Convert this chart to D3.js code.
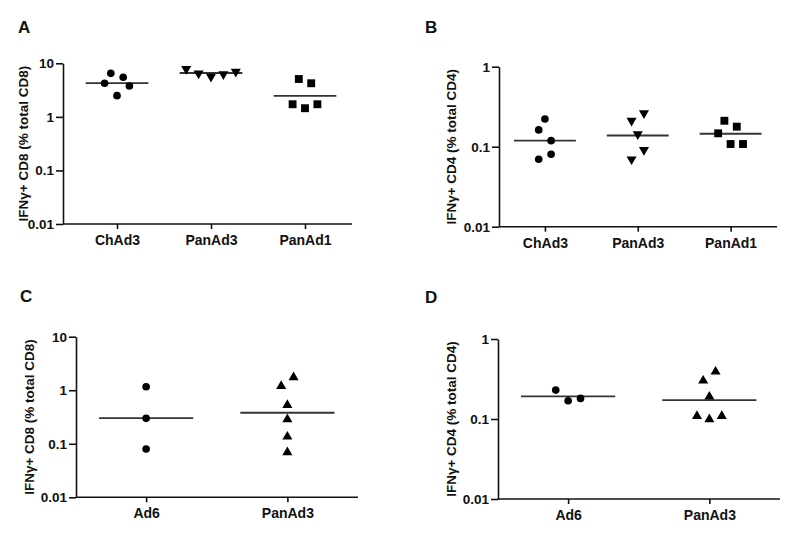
<!DOCTYPE html>
<html>
<head>
<meta charset="utf-8">
<script src="https://cdn.jsdelivr.net/npm/d3@7"></script>
<style>
  html, body { margin: 0; padding: 0; background: #fff; }
  svg { display: block; }
  text { font-family: "Liberation Sans", Arial, Helvetica, sans-serif; font-weight: bold; fill: #111; }
</style>
</head>
<body>
<svg id="chart" width="793" height="536"></svg>
<script>
// ---------------- DATA ----------------
// Panel A: IFNγ+ CD8 (% total CD8)
const catsA = ["ChAd3", "PanAd3", "PanAd1"];
const valsA_ChAd3  = [6.5, 5.48, 4.24, 3.77, 2.49];
const valsA_PanAd3 = [7.83, 6.5, 5.62, 6.24, 6.97];
const valsA_PanAd1 = [5.09, 4.24, 1.72, 1.45, 1.72];
const slotA_ChAd3  = [-1, 1, -2, 2, 0];
const slotA_PanAd3 = [-4, -2, 0, 2, 4];
const slotA_PanAd1 = [-1, 1, -2, 0, 2];

// Panel B: IFNγ+ CD4 (% total CD4)
const catsB = ["ChAd3", "PanAd3", "PanAd1"];
const valsB_ChAd3  = [0.222, 0.162, 0.119, 0.0804, 0.0696];
const valsB_PanAd3 = [0.262, 0.211, 0.143, 0.091, 0.0696];
const valsB_PanAd1 = [0.211, 0.178, 0.147, 0.108, 0.108];
const slotB_ChAd3  = [0, -1, 1, 1, -1];
const slotB_PanAd3 = [1, -1, 0, 1, -1];
const slotB_PanAd1 = [-1, 1, -2, 0, 2];

// Panel C: IFNγ+ CD8 (% total CD8)
const catsC = ["Ad6", "PanAd3"];
const valsC_Ad6    = [1.16, 0.299, 0.0798];
const valsC_PanAd3 = [1.2, 1.75, 0.53, 0.286, 0.1355, 0.069];
const slotC_Ad6    = [0, 0, 0];
const slotC_PanAd3 = [-1, 1, 0, 0, 0, 0];

// Panel D: IFNγ+ CD4 (% total CD4)
const catsD = ["Ad6", "PanAd3"];
const valsD_Ad6    = [0.23, 0.169, 0.181];
const valsD_PanAd3 = [0.301, 0.39, 0.19, 0.109, 0.099, 0.109];
const slotD_Ad6    = [-2, 0, 2];
const slotD_PanAd3 = [-1, 1, 0, -2, 0, 2];

const ticksCD8 = [0.01, 0.1, 1, 10];
const ticksCD4 = [0.01, 0.1, 1];
const tickLabels = {0.01: "0.01", 0.1: "0.1", 1: "1", 10: "10"};
const labelCD8 = "IFNγ+ CD8 (% total CD8)";
const labelCD4 = "IFNγ+ CD4 (% total CD4)";
const panelLetters = ["A", "B", "C", "D"];

// ---------------- LAYOUT ----------------
const panels = [
  { letter: panelLetters[0], cats: catsA, vals: [valsA_ChAd3, valsA_PanAd3, valsA_PanAd1],
    slots: [slotA_ChAd3, slotA_PanAd3, slotA_PanAd1], shapes: ["circle", "tdown", "square"],
    ticks: ticksCD8, label: labelCD8, axisX: 63,
    x0: 70, x1: 352, yTop: 63.3, yBot: 224, letterX: 18, letterY: 33, labelX: 28 },
  { letter: panelLetters[1], cats: catsB, vals: [valsB_ChAd3, valsB_PanAd3, valsB_PanAd1],
    slots: [slotB_ChAd3, slotB_PanAd3, slotB_PanAd1], shapes: ["circle", "tdown", "square"],
    ticks: ticksCD4, label: labelCD4, axisX: 499,
    x0: 498.5, x1: 777, yTop: 66.7, yBot: 226.7, letterX: 425, letterY: 33, labelX: 456 },
  { letter: panelLetters[2], cats: catsC, vals: [valsC_Ad6, valsC_PanAd3],
    slots: [slotC_Ad6, slotC_PanAd3], shapes: ["circle", "tup"],
    ticks: ticksCD8, label: labelCD8, axisX: 76,
    x0: 75.5, x1: 358, yTop: 336.7, yBot: 497.3, letterX: 20, letterY: 302, labelX: 34 },
  { letter: panelLetters[3], cats: catsD, vals: [valsD_Ad6, valsD_PanAd3],
    slots: [slotD_Ad6, slotD_PanAd3], shapes: ["circle", "tup"],
    ticks: ticksCD4, label: labelCD4, axisX: 498,
    x0: 497.5, x1: 780, yTop: 339, yBot: 499, letterX: 425, letterY: 303, labelX: 456 }
];

const svg = d3.select("#chart");
const slotUnit = 6.2;
const symbolGen = {
  circle: d3.symbol().type(d3.symbolCircle).size(46),
  square: d3.symbol().type(d3.symbolSquare).size(62),
  tdown:  d3.symbol().type(d3.symbolTriangle).size(44),
  tup:    d3.symbol().type(d3.symbolTriangle).size(44)
};

panels.forEach(p => {
  const g = svg.append("g");
  const domainTop = d3.max(p.ticks);
  const y = d3.scaleLog().domain([0.01, domainTop]).range([p.yBot, p.yTop]);
  const x = d3.scalePoint().domain(p.cats).range([p.x0, p.x1]).padding(0.5);

  // panel letter
  g.append("text").attr("x", p.letterX).attr("y", p.letterY)
    .style("font-size", "17px").text(p.letter);

  // y axis
  const yAxis = d3.axisLeft(y).tickValues(p.ticks).tickFormat(d => tickLabels[d])
    .tickSizeInner(7).tickSizeOuter(0).tickPadding(2);
  const ya = g.append("g").attr("transform", `translate(${p.axisX},0)`).call(yAxis);
  ya.select(".domain").attr("stroke", "#111").attr("stroke-width", 1.6);
  ya.selectAll(".tick line").attr("stroke", "#111").attr("stroke-width", 1.6);
  ya.selectAll(".tick text").style("font-size", "13.5px").style("font-family", null).attr("fill", "#111");

  // x axis
  const xAxis = d3.axisBottom(x).tickSizeInner(5).tickSizeOuter(0).tickPadding(6);
  const xa = g.append("g").attr("transform", `translate(0,${p.yBot})`).call(xAxis);
  xa.select(".domain").attr("stroke", "#111").attr("stroke-width", 1.6)
    .attr("d", `M${p.axisX},0H${p.x1}`);
  xa.selectAll(".tick line").attr("stroke", "#111").attr("stroke-width", 1.6);
  xa.selectAll(".tick text").style("font-size", "14px").style("font-family", null).attr("fill", "#111");

  // y label
  g.append("text")
    .attr("transform", `translate(${p.labelX},${(p.yTop + p.yBot) / 2}) rotate(-90)`)
    .attr("text-anchor", "middle").style("font-size", "13.5px").text(p.label);

  const step = x.step();
  p.cats.forEach((c, i) => {
    const vals = p.vals[i];
    const gm = Math.exp(d3.mean(vals, v => Math.log(v)));
    const cx = x(c);
    // geometric-mean line
    g.append("line")
      .attr("x1", cx - step / 3).attr("x2", cx + step / 3)
      .attr("y1", y(gm)).attr("y2", y(gm))
      .attr("stroke", "#333").attr("stroke-width", 1.8);
    // points
    const shape = p.shapes[i];
    g.selectAll(null).data(vals.map((v, k) => ({ v, s: p.slots[i][k] })))
      .enter().append("path")
      .attr("d", symbolGen[shape])
      .attr("transform", d => `translate(${cx + d.s * slotUnit},${y(d.v)})${shape === "tdown" ? " rotate(180)" : ""}`)
      .attr("fill", "#000");
  });
});
</script>
</body>
</html>
